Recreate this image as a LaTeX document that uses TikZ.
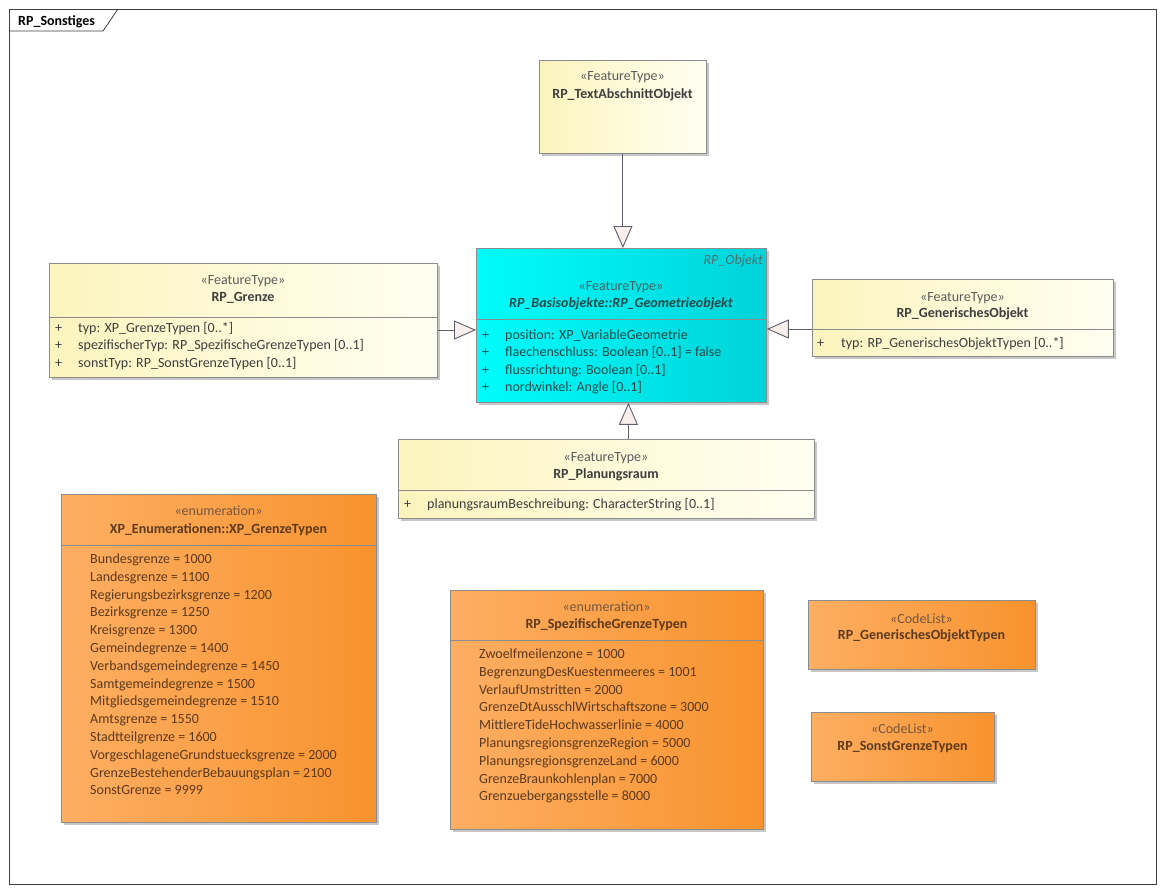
\documentclass[tikz,border=0pt]{standalone}
\usepackage{fontspec}
\setmainfont{Carlito}
\usetikzlibrary{arrows.meta,shadows}
\definecolor{yelL}{HTML}{FCF4BE}
\definecolor{yelR}{HTML}{FFFFF2}
\definecolor{orgL}{HTML}{FDAE63}
\definecolor{orgR}{HTML}{F8932E}
\definecolor{cyaL}{HTML}{00FCFC}
\definecolor{cyaR}{HTML}{00D3D9}
\definecolor{bord}{HTML}{8C8C8C}
\definecolor{txtY}{HTML}{3E3E3E}
\definecolor{txtO}{HTML}{5C3A1E}
\definecolor{txtC}{HTML}{254848}
\definecolor{conn}{HTML}{5E5E6E}
\definecolor{tipfill}{HTML}{F8EFEC}
\tikzset{
  box/.style={draw=bord, line width=0.8pt, inner sep=0, anchor=north west,
    drop shadow={shadow xshift=3pt,shadow yshift=-3pt,fill=black!40,opacity=0.55}},
  feat/.style={box, left color=yelL, right color=yelR},
  orng/.style={box, left color=orgL, right color=orgR},
  cyan/.style={box, left color=cyaL, right color=cyaR},
  sepline/.style={draw=bord, line width=0.8pt},
  tx/.style={inner sep=0, text height=10pt, text depth=3pt, yshift=-2pt, font=\fontsize{14}{17}\selectfont},
  txl/.style={tx, anchor=west},
  gen/.style={draw=conn, line width=0.9pt, -{Triangle[length=22pt,width=19pt,fill=tipfill]}},
}
\begin{document}
\begin{tikzpicture}[x=1pt,y=-1pt]
\useasboundingbox (0,0) rectangle (1165,892);
\fill[white] (0,0) rectangle (1165,892);
% frame
\node[draw=black!75, line width=0.8pt, minimum width=1147pt, minimum height=875pt, inner sep=0, anchor=north west] (frame) at (9,9) {};
\draw[black!75, line width=0.8pt] (9,31) -- (103,31) -- (118,9);
\node[tx, anchor=west, text=black] (title) at (18,20) {\textbf{RP\_Sonstiges}};

% RP_TextAbschnittObjekt
\node[feat, minimum width=167pt, minimum height=93pt] (ta) at (539,60) {};
\node[tx, text=txtY!85] (ta-s) at (622.5,75) {«FeatureType»};
\node[tx, text=txtY] (ta-n) at (622.5,93) {\textbf{RP\_TextAbschnittObjekt}};

% Geometrieobjekt
\node[cyan, minimum width=290pt, minimum height=154pt] (geo) at (476,248) {};
\node[tx, anchor=east, text=txtC!80] (geo-o) at (763,259) {\itshape RP\_Objekt};
\node[tx, text=txtC!85] (geo-s) at (621,285) {«FeatureType»};
\node[tx, text=txtC] (geo-n) at (621,302) {\textbf{\itshape RP\_Basisobjekte::RP\_Geometrieobjekt}};
\draw[sepline] (geo.west |- 0,319) -- (geo.east |- 0,319);
\foreach \t [count=\i] in {position: XP\_VariableGeometrie, flaechenschluss: Boolean [0..1] = false, flussrichtung: Boolean [0..1], nordwinkel: Angle [0..1]}{
  \node[txl, text=txtC] (geo-p\i) at (482,316+17.5*\i) {+};
  \node[txl, text=txtC] (geo-a\i) at (505,316+17.5*\i) {\t};
}

% RP_Grenze
\node[feat, minimum width=388pt, minimum height=114pt] (grz) at (49,263) {};
\node[tx, text=txtY!85] (grz-s) at (243,279) {«FeatureType»};
\node[tx, text=txtY] (grz-n) at (243,296) {\textbf{RP\_Grenze}};
\draw[sepline] (grz.west |- 0,317) -- (grz.east |- 0,317);
\foreach \t [count=\i] in {typ: XP\_GrenzeTypen [0..*], spezifischerTyp: RP\_SpezifischeGrenzeTypen [0..1], sonstTyp: RP\_SonstGrenzeTypen [0..1]}{
  \node[txl, text=txtY] (grz-p\i) at (55,309+17.5*\i) {+};
  \node[txl, text=txtY] (grz-a\i) at (78,309+17.5*\i) {\t};
}

% RP_GenerischesObjekt
\node[feat, minimum width=301pt, minimum height=77pt] (gob) at (812,279) {};
\node[tx, text=txtY!85] (gob-s) at (962.5,296) {«FeatureType»};
\node[tx, text=txtY] (gob-n) at (962.5,312) {\textbf{RP\_GenerischesObjekt}};
\draw[sepline] (gob.west |- 0,329) -- (gob.east |- 0,329);
\node[txl, text=txtY] (gob-p1) at (817,342) {+};
\node[txl, text=txtY] (gob-a1) at (841,342) {typ: RP\_GenerischesObjektTypen [0..*]};

% RP_Planungsraum
\node[feat, minimum width=416pt, minimum height=79pt] (pla) at (398,439) {};
\node[tx, text=txtY!85] (pla-s) at (606,456) {«FeatureType»};
\node[tx, text=txtY] (pla-n) at (606,473) {\textbf{RP\_Planungsraum}};
\draw[sepline] (pla.west |- 0,490) -- (pla.east |- 0,490);
\node[txl, text=txtY] (pla-p1) at (404,503) {+};
\node[txl, text=txtY] (pla-a1) at (427,503) {planungsraumBeschreibung: CharacterString [0..1]};

% XP_GrenzeTypen
\node[orng, minimum width=315pt, minimum height=328pt] (xpg) at (61,494) {};
\node[tx, text=txtO!85] (xpg-s) at (218.5,510) {«enumeration»};
\node[tx, text=txtO] (xpg-n) at (218.5,528) {\textbf{XP\_Enumerationen::XP\_GrenzeTypen}};
\draw[sepline] (xpg.west |- 0,545) -- (xpg.east |- 0,545);
\foreach \t [count=\i] in {Bundesgrenze = 1000, Landesgrenze = 1100, Regierungsbezirksgrenze = 1200, Bezirksgrenze = 1250, Kreisgrenze = 1300, Gemeindegrenze = 1400, Verbandsgemeindegrenze = 1450, Samtgemeindegrenze = 1500, Mitgliedsgemeindegrenze = 1510, Amtsgrenze = 1550, Stadtteilgrenze = 1600, VorgeschlageneGrundstuecksgrenze = 2000, GrenzeBestehenderBebauungsplan = 2100, SonstGrenze = 9999}{
  \node[txl, text=txtO] (xpg-a\i) at (90,540.2+17.8*\i) {\t};
}

% RP_SpezifischeGrenzeTypen
\node[orng, minimum width=313pt, minimum height=239pt] (spz) at (450,590) {};
\node[tx, text=txtO!85] (spz-s) at (606.5,606) {«enumeration»};
\node[tx, text=txtO] (spz-n) at (606.5,623) {\textbf{RP\_SpezifischeGrenzeTypen}};
\draw[sepline] (spz.west |- 0,640) -- (spz.east |- 0,640);
\foreach \t [count=\i] in {Zwoelfmeilenzone = 1000, BegrenzungDesKuestenmeeres = 1001, VerlaufUmstritten = 2000, GrenzeDtAusschlWirtschaftszone = 3000, MittlereTideHochwasserlinie = 4000, PlanungsregionsgrenzeRegion = 5000, PlanungsregionsgrenzeLand = 6000, GrenzeBraunkohlenplan = 7000, Grenzuebergangsstelle = 8000}{
  \node[txl, text=txtO] (spz-a\i) at (479,635.2+17.8*\i) {\t};
}

% CodeLists
\node[orng, minimum width=227pt, minimum height=69pt] (cl1) at (808,600) {};
\node[tx, text=txtO!85] (cl1-s) at (921.5,618) {«CodeList»};
\node[tx, text=txtO] (cl1-n) at (921.5,634) {\textbf{RP\_GenerischesObjektTypen}};
\node[orng, minimum width=183pt, minimum height=69pt] (cl2) at (811,712) {};
\node[tx, text=txtO!85] (cl2-s) at (902.5,728) {«CodeList»};
\node[tx, text=txtO] (cl2-n) at (902.5,745) {\textbf{RP\_SonstGrenzeTypen}};

% generalizations
\draw[gen] (ta.south) -- (ta.south |- geo.north);
\draw[gen] (grz.east |- 0,330) -- (geo.west |- 0,330);
\draw[gen] (gob.west |- 0,329) -- (geo.east |- 0,329);
\draw[gen] ([xshift=22pt]pla.north) -- ([xshift=22pt]pla.north |- geo.south);
\end{tikzpicture}
\end{document}
